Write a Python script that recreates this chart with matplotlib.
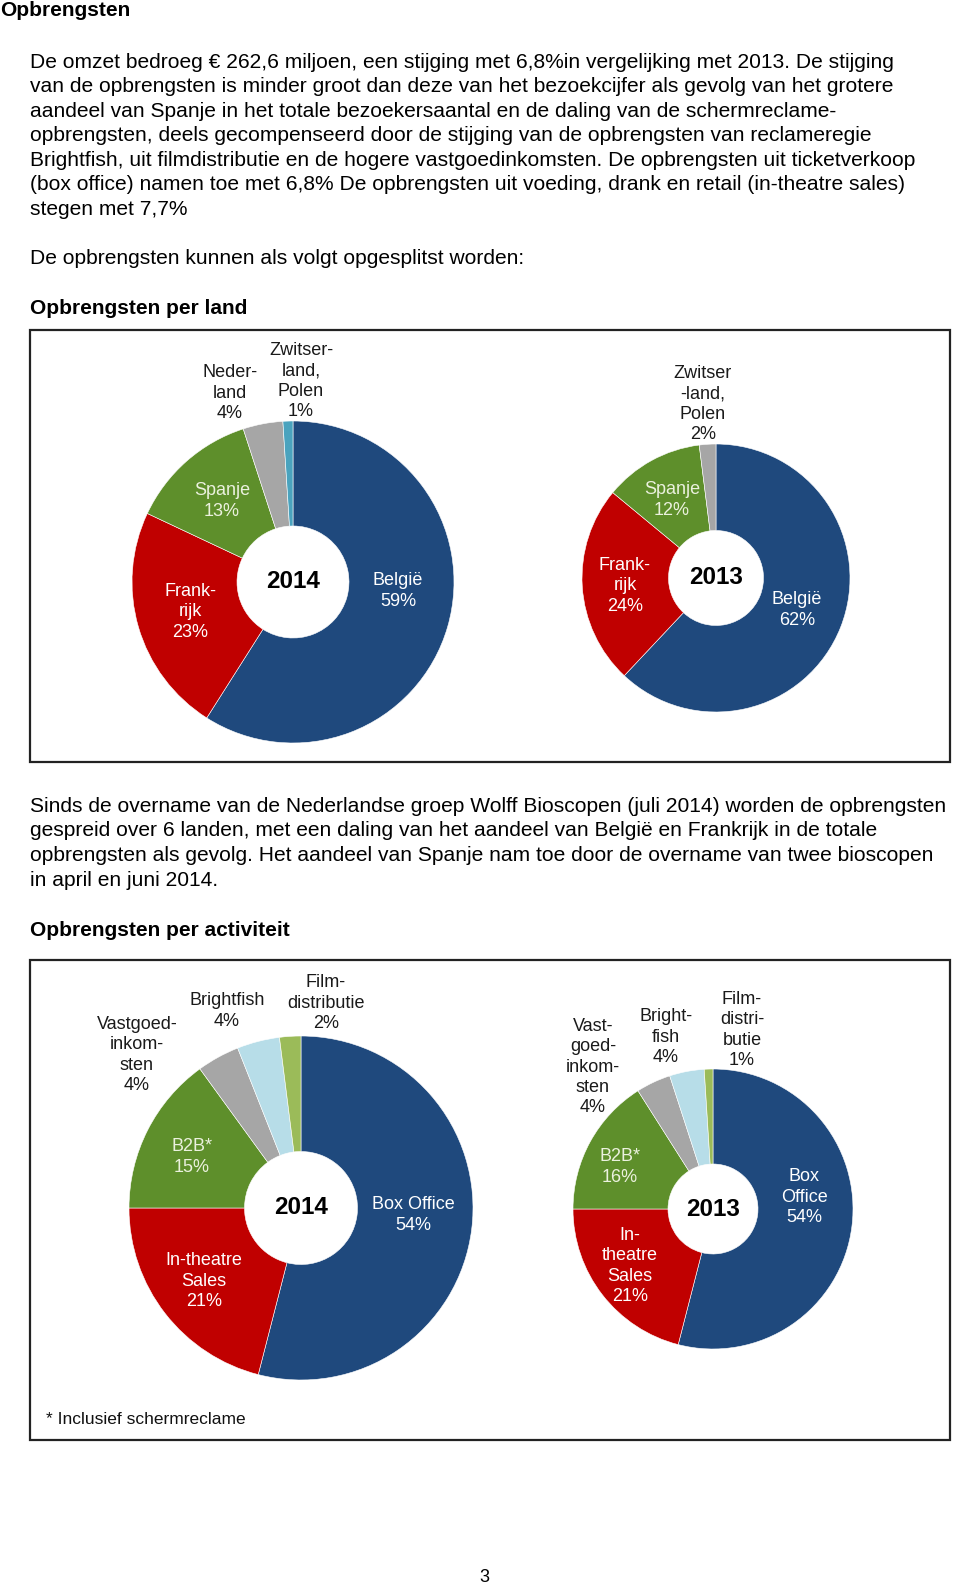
import matplotlib
matplotlib.use('Agg')
import matplotlib.pyplot as plt
from matplotlib.patches import Rectangle

plt.rcParams['font.family'] = ['Liberation Sans', 'DejaVu Sans']

# ---- data ----
land_labels_2014 = ['België\n59%', 'Frank-\nrijk\n23%', 'Spanje\n13%', 'Neder-\nland\n4%', 'Zwitser-\nland,\nPolen\n1%']
land_values_2014 = [59, 23, 13, 4, 1]
land_labels_2013 = ['België\n62%', 'Frank-\nrijk\n24%', 'Spanje\n12%', 'Zwitser\n-land,\nPolen\n2%']
land_values_2013 = [62, 24, 12, 2]

act_labels_2014 = ['Box Office\n54%', 'In-theatre\nSales\n21%', 'B2B*\n15%', 'Vastgoed-\ninkom-\nsten\n4%',
                   'Brightfish\n4%', 'Film-\ndistributie\n2%']
act_values_2014 = [54, 21, 15, 4, 4, 2]
act_labels_2013 = ['Box\nOffice\n54%', 'In-\ntheatre\nSales\n21%', 'B2B*\n16%', 'Vast-\ngoed-\ninkom-\nsten\n4%',
                   'Bright-\nfish\n4%', 'Film-\ndistri-\nbutie\n1%']
act_values_2013 = [54, 21, 16, 4, 4, 1]

para1 = ['De omzet bedroeg € 262,6 miljoen, een stijging met 6,8%in vergelijking met 2013. De stijging',
         'van de opbrengsten is minder groot dan deze van het bezoekcijfer als gevolg van het grotere',
         'aandeel van Spanje in het totale bezoekersaantal en de daling van de schermreclame-',
         'opbrengsten, deels gecompenseerd door de stijging van de opbrengsten van reclameregie',
         'Brightfish, uit filmdistributie en de hogere vastgoedinkomsten. De opbrengsten uit ticketverkoop',
         '(box office) namen toe met 6,8% De opbrengsten uit voeding, drank en retail (in-theatre sales)',
         'stegen met 7,7%']
para2 = ['Sinds de overname van de Nederlandse groep Wolff Bioscopen (juli 2014) worden de opbrengsten',
         'gespreid over 6 landen, met een daling van het aandeel van België en Frankrijk in de totale',
         'opbrengsten als gevolg. Het aandeel van Spanje nam toe door de overname van twee bioscopen',
         'in april en juni 2014.']

# ---- styles ----
blue, red, green, grey = '#1f497d', '#c00000', '#5e8f2b', '#a6a6a6'
teal, lightblue, lightgreen = '#4aa3be', '#b7dde8', '#9bbb59'
W, H = 960, 1588

fig = plt.figure(figsize=(W / 100, H / 100), dpi=100)
page = fig.add_axes([0, 0, 1, 1])
page.set_xlim(0, W)
page.set_ylim(H, 0)
page.axis('off')
page.set_zorder(10)  # texts on top of the donut axes

body = dict(fontsize=15.1, color='black', va='center', ha='left')
head = dict(fontsize=15, color='black', va='center', ha='left', fontweight='bold')
page.text(0, 11, 'Opbrengsten', **head)
for i, line in enumerate(para1):
    page.text(30, 62 + i * 24.6, line, **body)
page.text(30, 259, 'De opbrengsten kunnen als volgt opgesplitst worden:', **body)
page.text(30, 309, 'Opbrengsten per land', **head)
for i, line in enumerate(para2):
    page.text(30, 806 + i * 24.7, line, **body)
page.text(30, 930, 'Opbrengsten per activiteit', **head)
page.text(484, 1578, '3', fontsize=13, ha='center', va='center')

page.add_patch(Rectangle((30, 330), 920, 432, fill=False, lw=1.6, ec='#222222'))
page.add_patch(Rectangle((30, 960), 920, 480, fill=False, lw=1.6, ec='#222222'))
page.text(46, 1420, '* Inclusief schermreclame', fontsize=12.5, va='center', color='#111111')


def donut(cx, cy, r, hole, values, colors, year):
    pad = 1.05
    ax = fig.add_axes([(cx - r * pad) / W, 1 - (cy + r * pad) / H, 2 * r * pad / W, 2 * r * pad / H])
    ax.pie(values, colors=colors, startangle=90, counterclock=False, radius=1,
           wedgeprops=dict(width=1 - hole / r, edgecolor='white', linewidth=0.4))
    ax.set_xlim(-pad, pad)
    ax.set_ylim(-pad, pad)
    ax.axis('off')
    page.text(cx, cy, year, fontsize=17.5, fontweight='bold', ha='center', va='center')


def labels(texts, pos, cols):
    for t, (x, y), c in zip(texts, pos, cols):
        page.text(x, y, t, fontsize=13, color=c, ha='center', va='center', linespacing=1.25)


white, cream, dark = 'white', '#ebf1de', '#1a1a1a'

donut(293, 582, 161, 56, land_values_2014, [blue, red, green, grey, teal], '2014')
labels(land_labels_2014, [(398, 591), (190, 612), (222, 501), (230, 393), (301, 381)],
       [white, white, cream, dark, dark])

donut(716, 578, 134, 47.5, land_values_2013, [blue, red, green, grey], '2013')
labels(land_labels_2013, [(797, 610), (625, 586), (672, 500), (703, 404)],
       [white, white, cream, dark])

act_colors = [blue, red, green, grey, lightblue, lightgreen]
donut(301, 1208, 172, 56.5, act_values_2014, act_colors, '2014')
labels(act_labels_2014, [(413, 1215), (204, 1281), (192, 1157), (137, 1055), (227, 1011), (326, 1003)],
       [white, white, cream, dark, dark, dark])

donut(713, 1209, 140, 45, act_values_2013, act_colors, '2013')
labels(act_labels_2013, [(804, 1197), (630, 1266), (620, 1167), (593, 1067), (666, 1037), (742, 1030)],
       [white, white, cream, dark, dark, dark])

fig.savefig('out.png', dpi=100)
